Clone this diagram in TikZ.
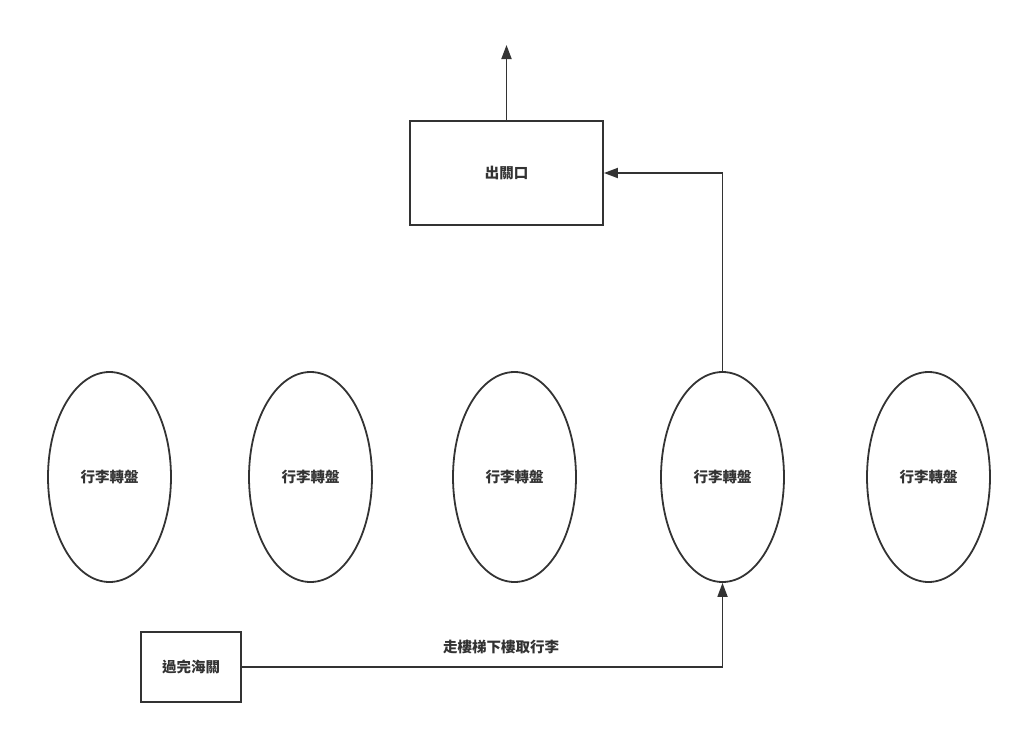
\documentclass[tikz,border=0pt]{standalone}
\usepackage{fontspec}
\newfontfamily\cjk{Noto Sans CJK TC}
\usetikzlibrary{arrows.meta,shapes.geometric}
\definecolor{ln}{HTML}{333333}
\tikzset{
  lbl/.style={font=\cjk\bfseries\fontsize{14.5}{16}\selectfont, text=ln},
  boxnode/.style={draw=ln, line width=1.8pt, minimum width=193pt, minimum height=104pt, lbl, inner sep=0pt},
  carousel/.style={ellipse, draw=ln, line width=1.8pt, minimum width=123pt, minimum height=210pt, lbl, inner sep=0pt},
  conn/.style={draw=ln, line width=1.8pt, -{Triangle[length=14pt,width=10pt]}},
}
\begin{document}
\begin{tikzpicture}[x=1pt,y=-1pt]
\useasboundingbox (0,0) rectangle (1022,734);
\node[boxnode] (exit) at (506.5,173) {出關口};
\coordinate (up) at (506.5,45);
\node[carousel] (c1) at (109.5,477) {行李轉盤};
\node[carousel] (c2) at (310.5,477) {行李轉盤};
\node[carousel] (c3) at (514.5,477) {行李轉盤};
\node[carousel] (c4) at (722.5,477) {行李轉盤};
\node[carousel] (c5) at (928.5,477) {行李轉盤};
\node[boxnode, minimum width=100pt, minimum height=70pt] (cust) at (191,667) {過完海關};
\draw[conn] (exit.north) -- (up);
\draw[conn] (c4.north) |- (exit.east);
\draw[conn] (cust.east) -| (c4.south);
\node[lbl] (lab) at (501,647) {走樓梯下樓取行李};
\end{tikzpicture}
\end{document}
